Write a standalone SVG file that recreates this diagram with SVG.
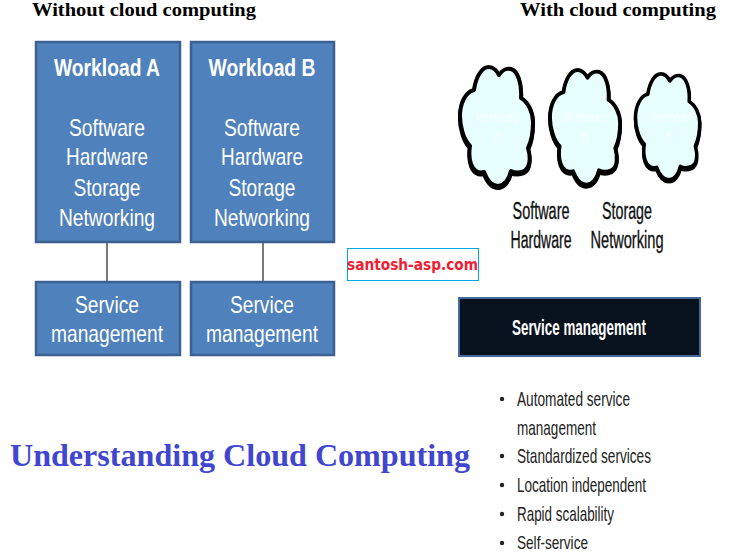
<svg xmlns="http://www.w3.org/2000/svg" width="742" height="553" viewBox="0 0 742 553">
<style>
.box{fill:#4f81bd;stroke:#3c6190;stroke-width:2.500}
.t{font-family:"Liberation Sans",Arial,sans-serif;text-anchor:middle}
.w{fill:#fff;font-size:24px}
.b{font-weight:bold}
.k{fill:#111;font-size:23px;stroke:#111;stroke-width:.35}
.h{font-family:"Liberation Serif","Times New Roman",serif;font-weight:bold;font-size:18.500px;fill:#000}
.cloud{fill:#e8ffff;stroke:#000;stroke-width:4;stroke-linejoin:round}
.shadow{fill:#000;stroke:#000;stroke-width:4;stroke-linejoin:round}
.cw{fill:#f8ffff;font-size:14px;font-family:"Liberation Sans",Arial,sans-serif;text-anchor:middle}
.li{font-family:"Liberation Sans",Arial,sans-serif;font-size:21px;fill:#222}
.dot{fill:#222}
.conn{stroke:#333;stroke-width:1.300;fill:none}
</style>
<defs>
<path id="c" d="M14 24C16 10 22 1 29 1C33 1 37 5 39 9C42 4 47 2 51 3C58 5 62 18 61 32C68 36 73 46 73 56C73 66 71 76 68 82C71 92 70 102 64 105C60 107 54 107 51 105C49 114 44 120 38 120C32 120 27 114 24 106C18 108 13 104 11 98C9 92 9 86 10 80C4 74 0 62 0 50C0 38 5 26 14 24Z"/>
</defs>
<rect width="742" height="553" fill="#fff"/>
<text class="h" x="32" y="16" textLength="224" lengthAdjust="spacingAndGlyphs">Without cloud computing</text>
<text class="h" x="520" y="16" textLength="196" lengthAdjust="spacingAndGlyphs">With cloud computing</text>
<g id="connectors">
<line class="conn" x1="107" y1="242" x2="107" y2="283"/>
<line class="conn" x1="263" y1="242" x2="263" y2="283"/>
</g>
<g id="workload-a">
<rect class="box" x="36" y="42" width="144" height="200"/>
<text class="t w b" x="107" y="76" textLength="106" lengthAdjust="spacingAndGlyphs">Workload A</text>
<text class="t w" x="107" y="136" textLength="76" lengthAdjust="spacingAndGlyphs">Software</text>
<text class="t w" x="107" y="165" textLength="82" lengthAdjust="spacingAndGlyphs">Hardware</text>
<text class="t w" x="107" y="196" textLength="67" lengthAdjust="spacingAndGlyphs">Storage</text>
<text class="t w" x="107" y="226" textLength="96" lengthAdjust="spacingAndGlyphs">Networking</text>
</g>
<g id="workload-b">
<rect class="box" x="191" y="42" width="143" height="200"/>
<text class="t w b" x="262" y="76" textLength="107" lengthAdjust="spacingAndGlyphs">Workload B</text>
<text class="t w" x="262" y="136" textLength="76" lengthAdjust="spacingAndGlyphs">Software</text>
<text class="t w" x="262" y="165" textLength="82" lengthAdjust="spacingAndGlyphs">Hardware</text>
<text class="t w" x="262" y="196" textLength="67" lengthAdjust="spacingAndGlyphs">Storage</text>
<text class="t w" x="262" y="226" textLength="96" lengthAdjust="spacingAndGlyphs">Networking</text>
</g>
<g id="service-a">
<rect class="box" x="36" y="282" width="144" height="73"/>
<text class="t w" x="107" y="313" textLength="64" lengthAdjust="spacingAndGlyphs">Service</text>
<text class="t w" x="107" y="342" textLength="112" lengthAdjust="spacingAndGlyphs">management</text>
</g>
<g id="service-b">
<rect class="box" x="191" y="282" width="143" height="73"/>
<text class="t w" x="262" y="313" textLength="64" lengthAdjust="spacingAndGlyphs">Service</text>
<text class="t w" x="262" y="342" textLength="112" lengthAdjust="spacingAndGlyphs">management</text>
</g>
<g id="watermark">
<rect x="347.500" y="248.500" width="131" height="32" fill="#fff" stroke="#00a8e8" stroke-width="1"/>
<text x="347" y="270" font-family="'DejaVu Sans',sans-serif" font-size="15.500" font-weight="bold" fill="#f02030" textLength="131" lengthAdjust="spacingAndGlyphs">santosh-asp.com</text>
</g>
<g id="cloud-a">
<use href="#c" class="shadow" transform="translate(460 68)"/>
<use href="#c" class="cloud" transform="translate(460 66)"/>
<text class="cw" x="497" y="122" textLength="42" lengthAdjust="spacingAndGlyphs">Workload</text>
<text class="cw" x="497" y="143">A</text>
</g>
<g id="cloud-b">
<use href="#c" class="shadow" transform="translate(550 71) scale(.96 .965)"/>
<use href="#c" class="cloud" transform="translate(550 69) scale(.96 .965)"/>
<text class="cw" x="584" y="122" textLength="42" lengthAdjust="spacingAndGlyphs">Workload</text>
<text class="cw" x="584" y="143">B</text>
</g>
<g id="cloud-c">
<use href="#c" class="shadow" transform="translate(635.500 75) scale(.88 .89)"/>
<use href="#c" class="cloud" transform="translate(635.500 73) scale(.88 .89)"/>
<text class="cw" x="670" y="122" textLength="42" lengthAdjust="spacingAndGlyphs">Workload</text>
<text class="cw" x="670" y="143">C</text>
</g>
<g id="cloud-labels">
<text class="t k" x="541" y="219" textLength="57" lengthAdjust="spacingAndGlyphs">Software</text>
<text class="t k" x="541" y="248" textLength="61" lengthAdjust="spacingAndGlyphs">Hardware</text>
<text class="t k" x="627" y="219" textLength="50" lengthAdjust="spacingAndGlyphs">Storage</text>
<text class="t k" x="627" y="248" textLength="73" lengthAdjust="spacingAndGlyphs">Networking</text>
</g>
<g id="service-management">
<rect x="459" y="298" width="241" height="58" fill="#08111e" stroke="#44699a" stroke-width="2"/>
<text class="t b" x="579" y="335" fill="#fff" font-size="22" textLength="134" lengthAdjust="spacingAndGlyphs">Service management</text>
</g>
<g id="benefits">
<circle class="dot" cx="502" cy="399" r="2.200"/>
<circle class="dot" cx="502" cy="456" r="2.200"/>
<circle class="dot" cx="502" cy="485" r="2.200"/>
<circle class="dot" cx="502" cy="514" r="2.200"/>
<circle class="dot" cx="502" cy="543" r="2.200"/>
<text class="li" x="517" y="406" textLength="113" lengthAdjust="spacingAndGlyphs">Automated service</text>
<text class="li" x="517" y="435" textLength="79" lengthAdjust="spacingAndGlyphs">management</text>
<text class="li" x="517" y="463" textLength="134" lengthAdjust="spacingAndGlyphs">Standardized services</text>
<text class="li" x="517" y="492" textLength="129" lengthAdjust="spacingAndGlyphs">Location independent</text>
<text class="li" x="517" y="521" textLength="97" lengthAdjust="spacingAndGlyphs">Rapid scalability</text>
<text class="li" x="517" y="549" font-size="19" style="font-size:19px" textLength="71" lengthAdjust="spacingAndGlyphs">Self-service</text>
</g>
<text id="title" x="10" y="466" font-family="'Liberation Serif','Times New Roman',serif" font-weight="bold" font-size="31" fill="#4046d0" textLength="460" lengthAdjust="spacingAndGlyphs">Understanding Cloud Computing</text>
</svg>
